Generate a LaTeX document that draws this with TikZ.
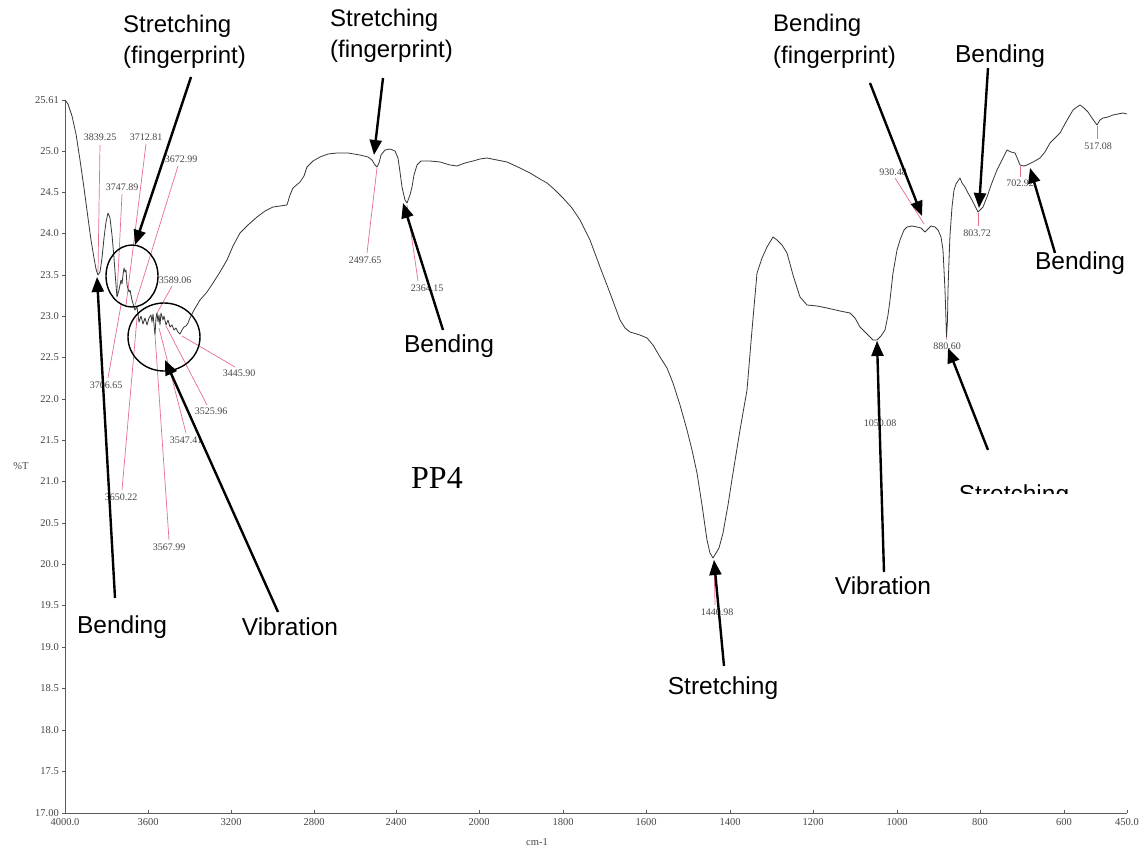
\documentclass[tikz,border=0pt]{standalone}
\usepackage{fontspec}
\setmainfont{Liberation Serif}
\newfontfamily\annfont{Liberation Sans}
\usetikzlibrary{arrows.meta}
\definecolor{labgray}{RGB}{70,70,70}
\definecolor{specgray}{RGB}{55,55,55}
\definecolor{axisgray}{RGB}{90,90,90}
\definecolor{pinkline}{RGB}{232,110,140}
\begin{document}
\begin{tikzpicture}[x=1pt,y=-1pt,
  ann/.style={font=\annfont\fontsize{24.5}{30}\selectfont, inner sep=0pt, anchor=base},
  annl/.style={font=\annfont\fontsize{24}{30}\selectfont, inner sep=0pt, anchor=base west},
  arr/.style={line width=2.4pt, -{Triangle[length=15pt,width=12pt]}},
  pk/.style={font=\fontsize{10}{12}\selectfont, text=labgray, inner sep=0.5pt},
  pkline/.style={draw=pinkline, line width=0.7pt},
  ticklab/.style={font=\fontsize{10.5}{12}\selectfont, text=labgray, inner sep=1pt},
  spec/.style={draw=specgray, line width=0.8pt, line join=round},
  ring/.style={draw=black, line width=1.4pt}]
\useasboundingbox (0,0) rectangle (1141,848);
\fill[white] (0,0) rectangle (1141,848);

% axes
\coordinate (yaxtop) at (65,100);
\coordinate (origin) at (65,813);
\coordinate (xaxend) at (1127,813);
\draw[axisgray, line width=0.8pt] (yaxtop) -- (origin) -- (xaxend);
\foreach \lab/\yy in {25.61/100,25.0/151,24.5/192,24.0/233,23.5/275,23.0/316,22.5/357,22.0/399,21.5/440,21.0/481,20.5/523,20.0/564,19.5/605,19.0/647,18.5/688,18.0/730,17.5/771,17.00/813}{
  \draw[axisgray, line width=0.6pt] (62,\yy) -- (65,\yy);
  \node[ticklab, anchor=east] at (60,\yy) {\lab};
}
\foreach \lab/\xx in {4000.0/65,3600/148,3200/231,2800/314,2400/396,2000/479,1800/563,1600/646,1400/730,1200/813,1000/897,800/980,600/1064,450.0/1127}{
  \draw[axisgray, line width=0.6pt] (\xx,810) -- (\xx,813);
  \node[ticklab] at (\xx,822) {\lab};
}
\node[ticklab] (ylab) at (21,466) {\%T};
\node[ticklab] (xlab) at (537,842) {cm-1};
\node[font=\fontsize{32}{36}\selectfont, inner sep=0pt] (title) at (437,478) {PP4};

% pink peak lines
\draw[pkline] (100,145) -- (98,272);
\draw[pkline] (146,144) -- (126,305);
\draw[pkline] (178,166) -- (135,305);
\draw[pkline] (122,194) -- (117,296);
\draw[pkline] (108,378) -- (121,305);
\draw[pkline] (122,490) -- (137,318);
\draw[pkline] (172,286) -- (156,315);
\draw[pkline] (169,540) -- (155,335);
\draw[pkline] (186,433) -- (159,328);
\draw[pkline] (207,405) -- (166,326);
\draw[pkline] (235,367) -- (182,336);
\draw[pkline] (367,253) -- (377,168);
\draw[pkline] (418,281) -- (407,205);
\draw[pkline] (715,605) -- (714,560);
\draw[pkline] (878,416) -- (877,341);
\draw[pkline] (895,178) -- (924,224);
\draw[pkline] (947,340) -- (946.5,337);
\draw[pkline] (978,226) -- (978,213);
\draw[pkline] (1020,177) -- (1020,166);
\draw[pkline] (1097,139) -- (1097,126);

% spectrum
\draw[spec] plot coordinates {
(65,100)(68,104)(72,116)(76,134)(80,160)(84,188)(88,218)(91,240)(94,258)(96,269)(98,275)(100,272)(102,258)(104,238)(106,222)(108,213)(110,218)(112,235)(114,258)(116,285)(117,297)(119,290)(121,280)(122,284)(123,275)(124,268)(125,272)(126,270)(127,285)(129,292)(130,290)(132,300)(134,307)(135,310)(137,307)(139,322)(141,316)(143,324)(145,318)(147,325)(149,318)(151,315)(152,322)(153,314)(155,335)(156,318)(157,313)(158,322)(159,315)(160,325)(161,313)(163,320)(164,316)(166,325)(168,320)(170,327)(172,325)(174,330)(176,328)(178,332)(180,334)(182,330)(184,327)(186,326)(188,323)(190,318)(192,314)(194,310)(197,305)(200,300)(207,292)(213,283)(220,272)(227,260)(233,246)(240,233)(248,225)(257,217)(265,211)(273,207)(287,205)(290,195)(293,188)(300,182)(304,176)(307,167)(313,161)(320,157)(328,154)(337,153)(348,153)(360,155)(368,157)(372,160)(375,165)(377,167)(379,163)(381,155)(385,150)(390,149)(395,151)(398,158)(400,172)(402,187)(405,200)(407,203)(410,195)(412,187)(414,175)(417,165)(421,161)(430,161)(440,162)(450,165)(457,166)(465,163)(473,161)(480,159)(487,158)(497,160)(507,162)(520,168)(530,173)(540,179)(547,183)(555,190)(563,198)(572,208)(580,220)(590,240)(600,267)(610,293)(620,320)(625,328)(630,332)(640,335)(647,338)(653,345)(660,357)(667,368)(673,383)(680,405)(687,430)(692,450)(697,473)(702,505)(707,540)(710,553)(713,558)(716,553)(719,548)(723,533)(728,505)(733,473)(740,430)(747,390)(752,330)(757,273)(762,258)(767,247)(773,237)(777,240)(782,245)(787,253)(793,275)(800,297)(807,305)(817,306)(827,308)(840,311)(850,313)(855,318)(860,327)(867,334)(873,340)(877,340)(881,336)(885,330)(888,315)(890,300)(893,273)(897,250)(900,240)(904,230)(907,227)(912,226)(917,227)(921,228)(925,232)(928,229)(931,226)(935,227)(938,230)(941,237)(943,250)(944,270)(945,290)(946,320)(946.5,337)(947.5,320)(948,290)(949,260)(950,235)(952,207)(954,190)(956,184)(958,181)(960,178)(962,183)(965,187)(968,193)(972,200)(975,206)(978,212)(981,209)(983,207)(987,197)(990,188)(993,180)(997,170)(1002,160)(1007,150)(1011,152)(1015,153)(1018,160)(1020,165)(1024,166)(1027,165)(1033,162)(1040,158)(1045,152)(1050,143)(1055,138)(1060,133)(1066,122)(1073,110)(1077,107)(1080,105)(1084,108)(1088,112)(1092,118)(1097,125)(1100,120)(1103,118)(1108,117)(1113,115)(1118,114)(1123,113)(1127,114)
};

% peak labels
\node[pk] (p3839) at (100,137) {3839.25};
\node[pk] (p3712) at (146,137) {3712.81};
\node[pk] (p3672) at (181,159) {3672.99};
\node[pk] (p3747) at (122,187) {3747.89};
\node[pk] (p3589) at (175,280) {3589.06};
\node[pk] (p3706) at (106,385) {3706.65};
\node[pk] (p3445) at (239,373) {3445.90};
\node[pk] (p3525) at (211,411) {3525.96};
\node[pk] (p3547) at (186,440) {3547.41};
\node[pk] (p3650) at (121,497) {3650.22};
\node[pk] (p3567) at (169,547) {3567.99};
\node[pk] (p2497) at (365,260) {2497.65};
\node[pk] (p2364) at (427,288) {2364.15};
\node[pk] (p1440) at (717,612) {1440.98};
\node[pk] (p1050) at (880,423) {1050.08};
\node[pk] (p930) at (893,172) {930.48};
\node[pk] (p880) at (947,346) {880.60};
\node[pk] (p803) at (977,233) {803.72};
\node[pk] (p702) at (1020,183) {702.92};
\node[pk] (p517) at (1098,146) {517.08};

% circles
\draw[ring] (132,276) ellipse [x radius=26, y radius=31];
\draw[ring] (164,337) ellipse [x radius=36, y radius=34];

% annotation texts
\node[annl] (tA1) at (123,33) {Stretching};
\node[annl] (tA1b) at (123,64) {(fingerprint)};
\node[annl] (tA2) at (330,27) {Stretching};
\node[annl] (tA2b) at (330,58) {(fingerprint)};
\node[ann] (tA3) at (449,352) {Bending};
\node[annl] (tA4) at (773,32) {Bending};
\node[annl] (tA4b) at (773,64) {(fingerprint)};
\node[ann] (tA5) at (1000,63) {Bending};
\node[ann] (tA6) at (1080,269) {Bending};
\begin{scope}
  \clip (900,470) rectangle (1141,493);
  \node[ann] (tA7) at (1014,502) {Stretching};
\end{scope}
\node[ann] (tA8) at (883,594) {Vibration};
\node[ann] (tA9) at (723,694) {Stretching};
\node[ann] (tA10) at (122,633) {Bending};
\node[ann] (tA11) at (290,635) {Vibration};

% arrows
\coordinate (s1) at (191,77);   \coordinate (e1) at (135,245);
\coordinate (s2) at (383,78);   \coordinate (e2) at (374,155);
\coordinate (s3) at (443,330);  \coordinate (e3) at (403,203);
\coordinate (s4) at (870,83);   \coordinate (e4) at (922,216);
\coordinate (s5) at (988,68);   \coordinate (e5) at (979,208);
\coordinate (s6) at (1055,253); \coordinate (e6) at (1030,168);
\coordinate (s7) at (988,450);  \coordinate (e7) at (948,348);
\coordinate (s8) at (884,572);  \coordinate (e8) at (877,341);
\coordinate (s9) at (724,666);  \coordinate (e9) at (714,560);
\coordinate (s10) at (115,598); \coordinate (e10) at (97,277);
\coordinate (s11) at (278,612); \coordinate (e11) at (165,360);
\foreach \i in {1,...,11}{ \draw[arr] (s\i) -- (e\i); }
\end{tikzpicture}
\end{document}
